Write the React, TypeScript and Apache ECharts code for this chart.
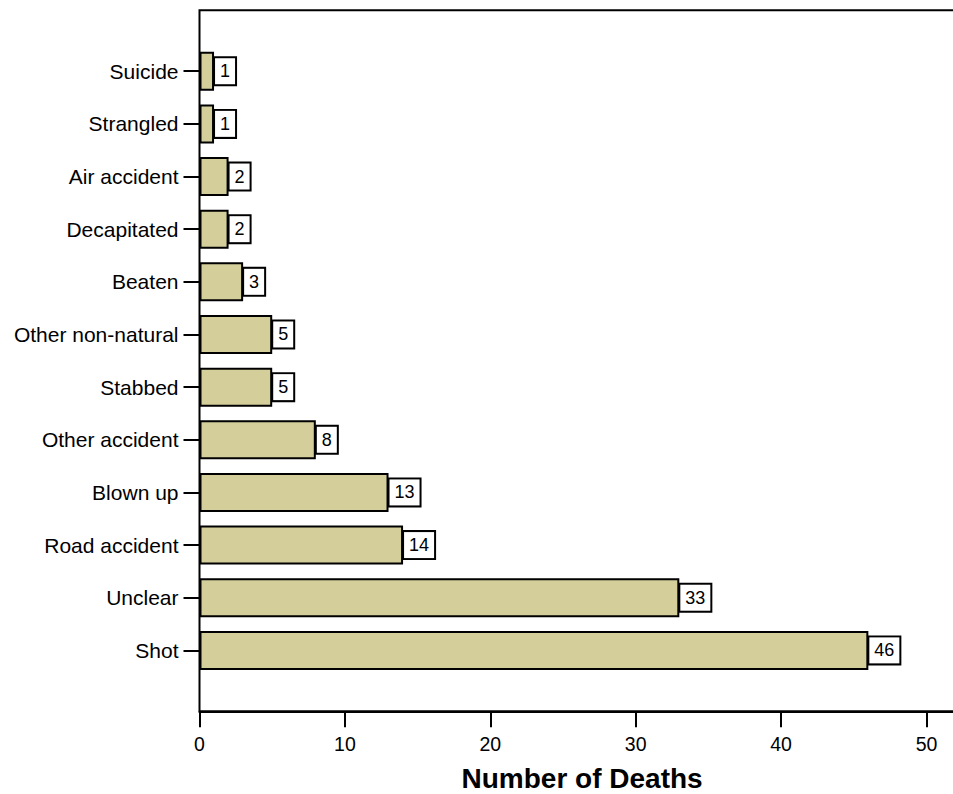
import React, { useEffect, useRef } from "react";
import * as echarts from "echarts";

const categories = [
  "Suicide",
  "Strangled",
  "Air accident",
  "Decapitated",
  "Beaten",
  "Other non-natural",
  "Stabbed",
  "Other accident",
  "Blown up",
  "Road accident",
  "Unclear",
  "Shot",
];
const deaths = [1, 1, 2, 2, 3, 5, 5, 8, 13, 14, 33, 46];
const xMin = 0;
const xMax = 54;
const xInterval = 10;
const xTitle = "Number of Deaths";

const FONT = "'Liberation Sans', Arial, Helvetica, sans-serif";

export default function App() {
  const ref = useRef<HTMLDivElement>(null);
  useEffect(() => {
    if (!ref.current) return;
    const chart = echarts.init(ref.current, null, { renderer: "svg" });
    const left = 199.5;
    const pxPerUnit = 14.54;
    const width = xMax * pxPerUnit;
    chart.setOption({
      animation: false,
      backgroundColor: "#ffffff",
      textStyle: { fontFamily: FONT },
      grid: [
        {
          left,
          top: 10.3,
          width,
          height: 701,
          show: true,
          borderColor: "#000",
          borderWidth: 2,
          backgroundColor: "transparent",
          containLabel: false,
          outerBoundsMode: "none",
        },
        {
          left,
          top: 44.9,
          width,
          height: 631.8,
          containLabel: false,
          outerBoundsMode: "none",
        },
      ],
      xAxis: [
        {
          gridIndex: 0,
          type: "value",
          min: xMin,
          max: xMax,
          interval: xInterval,
          splitLine: { show: false },
          axisLine: { show: true, lineStyle: { color: "#000", width: 2 } },
          axisTick: { show: true, length: 16, lineStyle: { color: "#000", width: 2 } },
          axisLabel: {
            show: true,
            showMaxLabel: false,
            color: "#000",
            fontSize: 19.5,
            margin: 23,
            fontFamily: FONT,
          },
          name: xTitle,
          nameLocation: "middle",
          nameGap: 54,
          nameTextStyle: {
            color: "#000",
            fontSize: 28,
            lineHeight: 26,
            fontWeight: "bold",
            fontFamily: FONT,
            padding: [0, 20, 0, 0],
          },
        },
        {
          gridIndex: 1,
          type: "value",
          min: xMin,
          max: xMax,
          show: false,
          splitLine: { show: false },
        },
      ],
      yAxis: [
        {
          gridIndex: 0,
          type: "value",
          min: 0,
          max: 1,
          show: false,
          splitLine: { show: false },
        },
        {
          gridIndex: 1,
          type: "category",
          inverse: true,
          data: categories,
          axisLine: { show: false },
          axisTick: {
            show: true,
            alignWithLabel: true,
            length: 16,
            lineStyle: { color: "#000", width: 2 },
          },
          axisLabel: {
            color: "#000",
            fontSize: 21,
            margin: 21,
            fontFamily: FONT,
          },
          splitLine: { show: false },
        },
      ],
      series: [
        {
          type: "bar",
          xAxisIndex: 1,
          yAxisIndex: 1,
          data: deaths,
          barWidth: 39,
          itemStyle: { color: "#d3ce9a", borderColor: "#000", borderWidth: 2 },
          label: {
            show: true,
            position: "right",
            distance: 1,
            color: "#000",
            fontSize: 18,
            lineHeight: 18,
            fontFamily: FONT,
            backgroundColor: "#fff",
            borderColor: "#000",
            borderWidth: 2,
            padding: [4, 5, 4, 5],
          },
        },
      ],
    });
    return () => chart.dispose();
  }, []);
  return (
    <div
      ref={ref}
      style={{ position: "absolute", left: 0, top: 0, width: 953, height: 794 }}
    />
  );
}
